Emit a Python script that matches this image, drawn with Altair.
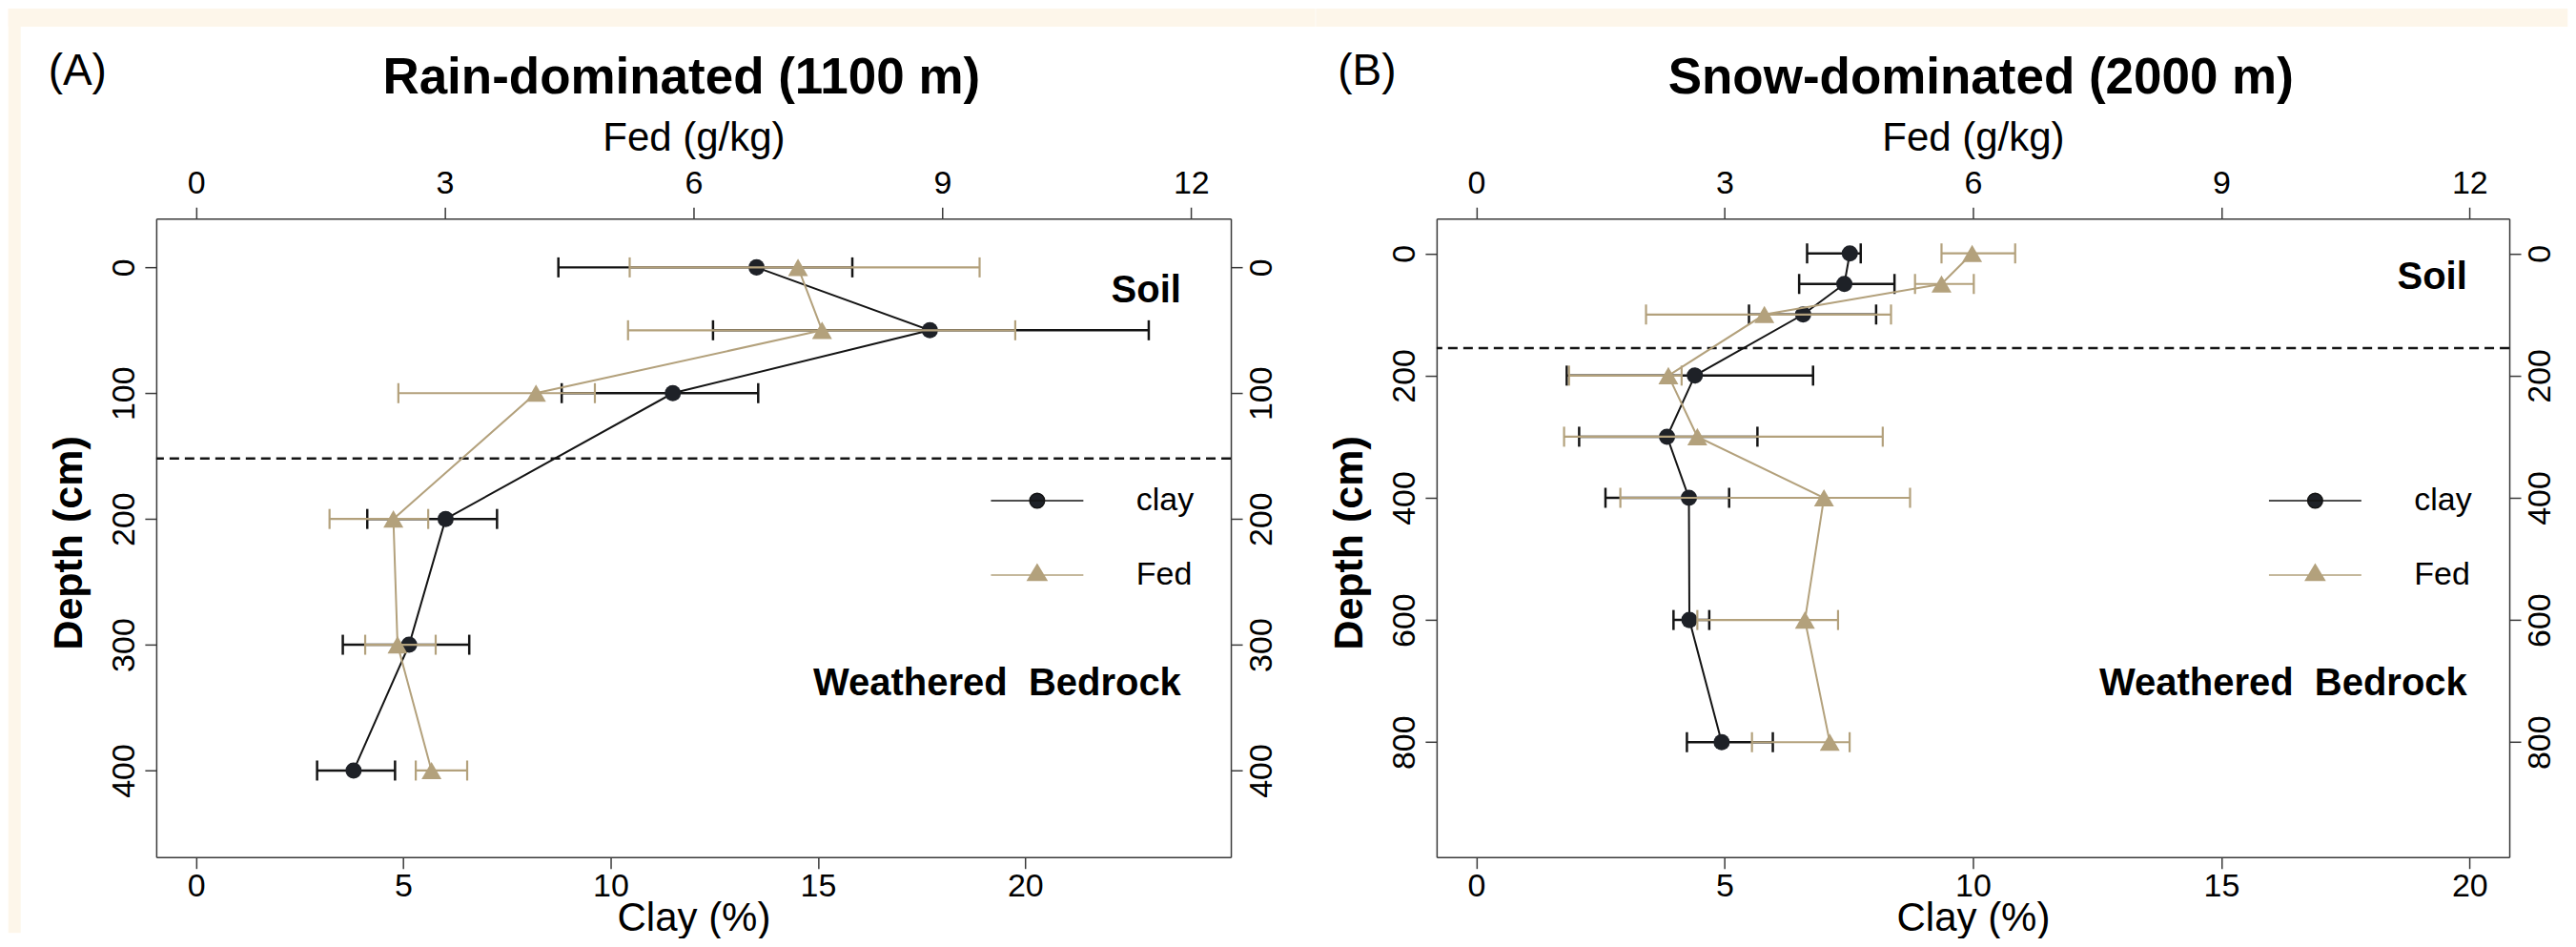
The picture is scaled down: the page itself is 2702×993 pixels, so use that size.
import altair as alt
import pandas as pd

# ---------------- data ----------------
depth_A = [0, 50, 100, 200, 300, 400]
clay_A = [13.52, 17.70, 11.50, 6.02, 5.14, 3.80]
clay_A_lo = [8.74, 12.47, 8.82, 4.13, 3.54, 2.92]
clay_A_hi = [15.83, 22.98, 13.56, 7.26, 6.59, 4.80]
fed_A = [7.26, 7.55, 4.10, 2.38, 2.43, 2.84]
fed_A_lo = [5.23, 5.21, 2.44, 1.61, 2.04, 2.65]
fed_A_hi = [9.45, 9.88, 4.81, 2.80, 2.89, 3.27]

depth_B = [0, 50, 100, 200, 300, 400, 600, 800]
clay_B = [7.52, 7.41, 6.58, 4.40, 3.84, 4.28, 4.29, 4.94]
clay_B_lo = [6.66, 6.50, 5.49, 1.82, 2.07, 2.60, 3.97, 4.24]
clay_B_hi = [7.74, 8.42, 8.05, 6.78, 5.66, 5.09, 4.69, 5.97]
fed_B = [5.99, 5.62, 3.48, 2.32, 2.67, 4.20, 3.97, 4.27]
fed_B_lo = [5.62, 5.30, 2.05, 1.12, 1.06, 1.74, 2.67, 3.33]
fed_B_hi = [6.51, 6.01, 5.01, 2.48, 4.91, 5.24, 4.37, 4.51]

boundary_A = [152]
boundary_B = [155]

series_names = ["clay", "Fed"]
panel_letters = ["(A)", "(B)"]
panel_titles = ["Rain-dominated (1100 m)", "Snow-dominated (2000 m)"]
zone_labels = ["Soil", "Weathered\u00a0\u00a0Bedrock"]
zone_x_A = [23.76, 23.76]
zone_depth_A = [27.8, 340]
zone_x_B = [19.95, 19.95]
zone_depth_B = [58, 723]

clay_ticks = [0, 5, 10, 15, 20]
fed_ticks = [0, 3, 6, 9, 12]
depth_ticks_A = [0, 100, 200, 300, 400]
depth_ticks_B = [0, 200, 400, 600, 800]

# ---------------- styling ----------------
FONT = "Liberation Sans"
DARK = "#1e2127"
LINE = "#141414"
TAN = "#b3a17c"
CREAM = "#fdf6ea"
H = 670

CIRCLE_PATH = ("M-4.85,0L4.85,0M0.78,0A0.78,0.78,0,1,1,-0.78,0"
               "A0.78,0.78,0,1,1,0.78,0Z")
TRI_PATH = "M-4.85,0L4.85,0M0,-1.1L1,0.56L-1,0.56Z"


def panel(depth, clay, clay_lo, clay_hi, fed, fed_lo, fed_hi, boundary,
          zone_x, zone_depth, depth_ticks, clay_dom, fed_dom, y_dom,
          W, letter, title, title_x, letter_x, legend_x, rects):
    cs = alt.Scale(domain=clay_dom, nice=False, zero=False)
    fs = alt.Scale(domain=fed_dom, nice=False, zero=False)
    ys = alt.Scale(domain=y_dom, reverse=True, nice=False, zero=False)

    clay_df = pd.DataFrame({"depth": depth, "val": clay, "lo": clay_lo, "hi": clay_hi})
    fed_df = pd.DataFrame({"depth": depth, "val": fed, "lo": fed_lo, "hi": fed_hi})
    clay_caps = pd.DataFrame({"depth": depth + depth, "cap": clay_lo + clay_hi})
    fed_caps = pd.DataFrame({"depth": depth + depth, "cap": fed_lo + fed_hi})
    zone_df = pd.DataFrame({"label": zone_labels, "x": zone_x, "depth": zone_depth})
    leg_df = pd.DataFrame({"series": series_names, "val": [0, 0], "depth": [0, 0]})
    one = pd.DataFrame({"t": [title], "l": [letter]})

    left_axis = alt.Axis(orient="left", values=depth_ticks, labelAngle=270,
                         labelAlign="center", labelBaseline="alphabetic",
                         labelPadding=11.7, title="Depth (cm)", titleAngle=270,
                         titleX=-78, titleY=H / 2 + 5, titleAlign="center",
                         titleBaseline="alphabetic", titleFontWeight="bold",
                         titleFontSize=43)
    right_axis = alt.Axis(orient="right", values=depth_ticks, labelAngle=270,
                          labelAlign="center", labelBaseline="top",
                          labelPadding=3, title=None)
    bottom_axis = alt.Axis(orient="bottom", values=clay_ticks,
                           labelBaseline="alphabetic", labelPadding=29,
                           title="Clay (%)", titleX=W / 2, titleY=76.6,
                           titleAlign="center", titleBaseline="alphabetic",
                           titleFontSize=42, titleFontWeight="normal")
    top_axis = alt.Axis(orient="top", values=fed_ticks,
                        labelBaseline="alphabetic", labelPadding=14.6,
                        title="Fed (g/kg)", titleX=W / 2, titleY=-71.3,
                        titleAlign="center", titleBaseline="alphabetic",
                        titleFontSize=42, titleFontWeight="normal")

    layers = []
    for (x0, x1, y0, y1) in rects:
        layers.append(alt.Chart(pd.DataFrame({"a": [0]})).mark_rect(color=CREAM).encode(
            x=alt.value(x0), x2=alt.value(x1), y=alt.value(y0), y2=alt.value(y1)))

    layers.append(alt.Chart(pd.DataFrame({"depth": boundary})).mark_rule(
        color=LINE, strokeWidth=2.5, strokeDash=[10, 6]).encode(
        y=alt.Y("depth:Q", scale=ys, axis=left_axis)))

    # clay
    layers.append(alt.Chart(clay_df).mark_line(color=LINE, strokeWidth=2).encode(
        x=alt.X("val:Q", scale=cs, axis=bottom_axis),
        y=alt.Y("depth:Q", scale=ys, axis=right_axis),
        order=alt.Order("depth:Q")))
    layers.append(alt.Chart(clay_df).mark_rule(color=LINE, strokeWidth=2.5).encode(
        x=alt.X("lo:Q", scale=cs, axis=None), x2="hi:Q",
        y=alt.Y("depth:Q", scale=ys, axis=None)))
    layers.append(alt.Chart(clay_caps).mark_tick(orient="vertical", color=LINE, size=21,
                                                 thickness=2.5, opacity=1).encode(
        x=alt.X("cap:Q", scale=cs, axis=None),
        y=alt.Y("depth:Q", scale=ys, axis=None)))
    layers.append(alt.Chart(clay_df).mark_point(shape="circle", filled=True, size=290,
                                                color=DARK, opacity=1).encode(
        x=alt.X("val:Q", scale=cs, axis=None),
        y=alt.Y("depth:Q", scale=ys, axis=None)))

    # Fed
    layers.append(alt.Chart(fed_df).mark_line(color=TAN, strokeWidth=2).encode(
        x=alt.X("val:Q", scale=fs, axis=top_axis),
        y=alt.Y("depth:Q", scale=ys, axis=None),
        order=alt.Order("depth:Q")))
    layers.append(alt.Chart(fed_df).mark_rule(color=TAN, strokeWidth=2.2).encode(
        x=alt.X("lo:Q", scale=fs, axis=None), x2="hi:Q",
        y=alt.Y("depth:Q", scale=ys, axis=None)))
    layers.append(alt.Chart(fed_caps).mark_tick(orient="vertical", color=TAN, size=21,
                                                thickness=2.2, opacity=1).encode(
        x=alt.X("cap:Q", scale=fs, axis=None),
        y=alt.Y("depth:Q", scale=ys, axis=None)))
    layers.append(alt.Chart(fed_df).mark_point(shape="triangle-up", filled=True, size=440,
                                               color=TAN, opacity=1).encode(
        x=alt.X("val:Q", scale=fs, axis=None),
        y=alt.Y("depth:Q", scale=ys, axis=None)))

    # zone labels
    layers.append(alt.Chart(zone_df).mark_text(align="right", baseline="alphabetic",
                                               font=FONT, fontSize=40, fontWeight="bold",
                                               color="black").encode(
        x=alt.X("x:Q", scale=cs, axis=None),
        y=alt.Y("depth:Q", scale=ys, axis=None),
        text="label:N"))

    # legend (scale-driven)
    leg = alt.Legend(orient="none", legendX=legend_x, legendY=279, title=None,
                     symbolSize=400, symbolStrokeWidth=1.5, labelFont=FONT,
                     labelFontSize=34, labelColor="black", labelOffset=87,
                     rowPadding=44, padding=0, direction="vertical")
    layers.append(alt.Chart(leg_df).transform_filter("false").mark_point(opacity=1).encode(
        x=alt.X("val:Q", scale=cs, axis=None),
        y=alt.Y("depth:Q", scale=ys, axis=None),
        shape=alt.Shape("series:N", scale=alt.Scale(domain=series_names,
                                                    range=[CIRCLE_PATH, TRI_PATH]), legend=leg),
        fill=alt.Fill("series:N", scale=alt.Scale(domain=series_names, range=[DARK, TAN]),
                      legend=leg),
        stroke=alt.Stroke("series:N", scale=alt.Scale(domain=series_names, range=[LINE, TAN]),
                          legend=leg)))

    # titles
    layers.append(alt.Chart(one).mark_text(align="center", baseline="alphabetic", font=FONT,
                                           fontSize=53, fontWeight="bold", color="black").encode(
        x=alt.value(title_x), y=alt.value(-131.3), text="t:N"))
    layers.append(alt.Chart(one).mark_text(align="left", baseline="alphabetic", font=FONT,
                                           fontSize=46, color="black").encode(
        x=alt.value(letter_x), y=alt.value(-140.3), text="l:N"))

    return alt.layer(*layers).resolve_scale(x="independent", y="independent").properties(
        width=W, height=H)


pA = panel(depth_A, clay_A, clay_A_lo, clay_A_hi, fed_A, fed_A_lo, fed_A_hi, boundary_A,
           zone_x_A, zone_depth_A, depth_ticks_A, [-0.96, 24.96], [-0.48, 12.48],
           [-38.8, 468.8], 1128, panel_letters[0], panel_titles[0], 551.3, -113.3, 907.7,
           [(-155.3, 1216.7, -220.3, -201.3), (-155.3, -142.3, -220.3, 749.7)])
pB = panel(depth_B, clay_B, clay_B_lo, clay_B_hi, fed_B, fed_B_lo, fed_B_hi, boundary_B,
           zone_x_B, zone_depth_B, depth_ticks_B, [-0.8, 20.8], [-0.48, 12.48],
           [-57, 988], 1126, panel_letters[1], panel_titles[1], 571.3, -103.7, 905.2,
           [(-126.7, 1187.3, -220.3, -201.3)])

chart = alt.hconcat(pA, pB, spacing=0).resolve_scale(
    fill="independent", stroke="independent", shape="independent").resolve_legend(
    fill="independent", stroke="independent", shape="independent").properties(
    padding=0).configure(background="white", font=FONT).configure_view(
    stroke=None).configure_axis(
    labelFont=FONT, labelFontSize=34, labelColor="black", titleFont=FONT,
    titleColor="black", domainColor="#3a3a3a", domainWidth=1.5, tickColor="#3a3a3a",
    tickWidth=1.5, tickSize=12, grid=False, labelFlush=False, labelOverlap=False)

chart.save("out.html", embed_options={"renderer": "svg", "actions": False})
